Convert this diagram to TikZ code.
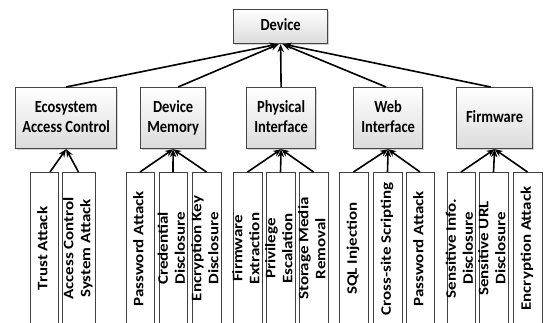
\documentclass[tikz,border=0pt]{standalone}
\usepackage{fontspec}
\setmainfont{Carlito}
\usepackage{graphicx}
\usetikzlibrary{arrows.meta,shadows}

% text is set slightly taller than wide, as in the printed figure
\newcommand{\vtext}[1]{\scalebox{1}[1.17]{\begin{tabular}{@{}c@{}}#1\end{tabular}}}
\newcommand{\leaftext}[1]{\makebox[0pt]{\scalebox{1}[1.17]{\rotatebox{90}{\begin{tabular}{@{}c@{}}#1\end{tabular}}}}}

\tikzset{
  topbox/.style={draw=gray!55!black, line width=1.2pt, top color=white, bottom color=gray!28,
    drop shadow={shadow xshift=1pt, shadow yshift=-1.5pt, opacity=0.35},
    inner sep=0pt, anchor=north west, align=center},
  leafbox/.style={draw=gray!50!black, line width=1pt, fill=white, inner sep=0pt,
    anchor=north, minimum height=152pt},
  link/.style={line width=1.6pt, -{Stealth[length=8pt,width=6.5pt]}},
}

\begin{document}
\begin{tikzpicture}[x=1pt, y=-1pt, font=\fontsize{14.5}{17}\selectfont\bfseries]
\useasboundingbox (0,0) rectangle (545,323);
\clip (0,0) rectangle (545,323);
\fill[white] (0,0) rectangle (545,323);

% root
\node[topbox, minimum width=94pt, minimum height=34pt] (dev) at (233,9) {\vtext{Device}};

% categories
\node[topbox, minimum width=101pt, minimum height=61pt] (eco)  at (15,87)  {\vtext{Ecosystem\\Access Control}};
\node[topbox, minimum width=65pt,  minimum height=61pt] (mem)  at (140,87) {\vtext{Device\\Memory}};
\node[topbox, minimum width=69pt,  minimum height=61pt] (phy)  at (246,87) {\vtext{Physical\\Interface}};
\node[topbox, minimum width=69pt,  minimum height=61pt] (web)  at (353,87) {\vtext{Web\\Interface}};
\node[topbox, minimum width=76pt,  minimum height=61pt] (firm) at (456,87) {\vtext{Firmware}};

% attacks
\node[leafbox, minimum width=28pt] (e1) at (44,172)    {\leaftext{Trust Attack}};
\node[leafbox, minimum width=33pt] (e2) at (78.5,172)  {\leaftext{Access Control\\System Attack}};
\node[leafbox, minimum width=28pt] (m1) at (140,172)   {\leaftext{Password Attack}};
\node[leafbox, minimum width=28pt] (m2) at (173,172)   {\leaftext{Credential\\Disclosure}};
\node[leafbox, minimum width=29pt] (m3) at (206.5,172) {\leaftext{Encryption Key\\Disclosure}};
\node[leafbox, minimum width=29pt] (p1) at (247.5,172) {\leaftext{Firmware\\Extraction}};
\node[leafbox, minimum width=29pt] (p2) at (280.5,172) {\leaftext{Privilege\\Escalation}};
\node[leafbox, minimum width=29pt] (p3) at (313.5,172) {\leaftext{Storage Media\\Removal}};
\node[leafbox, minimum width=29pt] (w1) at (353.5,172) {\leaftext{SQL Injection}};
\node[leafbox, minimum width=29pt] (w2) at (387.5,172) {\leaftext{Cross-site Scripting}};
\node[leafbox, minimum width=28pt] (w3) at (420,172)   {\leaftext{Password Attack}};
\node[leafbox, minimum width=28pt] (f1) at (461,172)   {\leaftext{Sensitive Info.\\Disclosure}};
\node[leafbox, minimum width=29pt] (f2) at (493.5,172) {\leaftext{Sensitive URL\\Disclosure}};
\node[leafbox, minimum width=29pt] (f3) at (527.5,172) {\leaftext{Encryption Attack}};

% categories to root
\draw[link] (eco.north)  -- ([xshift=-3pt]dev.south);
\draw[link] ([xshift=5pt]mem.north) -- ([xshift=-2pt]dev.south);
\draw[link] (phy.north)  -- (dev.south);
\draw[link] ([xshift=-2pt]web.north) -- ([xshift=2pt]dev.south);
\draw[link] ([xshift=-4pt]firm.north) -- ([xshift=3pt]dev.south);

% attacks to categories
\draw[link] ([xshift=6pt]e1.north) -- (eco.south);
\draw[link] (e2.north) -- (eco.south);
\draw[link] (m1.north) -- (mem.south);
\draw[link] (m2.north) -- (mem.south);
\draw[link] (m3.north) -- (mem.south);
\draw[link] (p1.north) -- (phy.south);
\draw[link] (p2.north) -- (phy.south);
\draw[link] (p3.north) -- (phy.south);
\draw[link] (w1.north) -- (web.south);
\draw[link] (w2.north) -- (web.south);
\draw[link] (w3.north) -- (web.south);
\draw[link] (f1.north) -- (firm.south);
\draw[link] (f2.north) -- (firm.south);
\draw[link] (f3.north) -- (firm.south);
\end{tikzpicture}
\end{document}
